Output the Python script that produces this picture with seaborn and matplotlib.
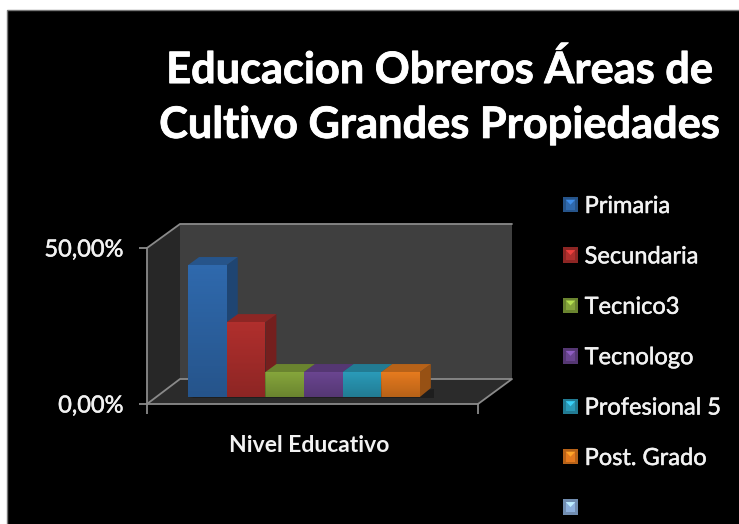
import numpy as np
import pandas as pd
import matplotlib
matplotlib.use('Agg')
import matplotlib.pyplot as plt
import matplotlib.patheffects as pe
from matplotlib.patches import Polygon, Rectangle, Patch
from matplotlib.legend_handler import HandlerPatch
from matplotlib.transforms import Affine2D
import seaborn as sns

# values
niveles = ['Primaria', 'Secundaria', 'Tecnico3', 'Tecnologo', 'Profesional 5', 'Post. Grado']
porcentajes = [42.3, 24.0, 8.0, 8.0, 8.0, 8.0]
colores = ['#2f69ad', '#b02f2d', '#85a53b', '#6a4590', '#2a9ab8', '#e57a1e']
color_vacio = '#8db0dc'  # the seventh legend entry has no label and no bar
categoria = ['Nivel Educativo']
yticks = [0, 50]
yticklabels = ['0,00%', '50,00%']
titulo = 'Educacion Obreros Áreas de\nCultivo Grandes Propiedades'

W, H = 739, 524
GRIS = '#8a8a8a'
DEPTH_X, DEPTH_Y = 11, 8    # bar depth in pixels
SHIFT_X, SHIFT_Y = -8.5, 7  # bars stand a bit inside the floor

sns.set_theme(style='white', font='Lato')
plt.rcParams['font.family'] = ['Lato', 'DejaVu Sans']

fig = plt.figure(figsize=(W / 100, H / 100), dpi=100, facecolor='white')
grueso = [pe.withStroke(linewidth=0.35, foreground='#f2f2f2')]


def dark(color, f):
    return tuple(c * f for c in matplotlib.colors.to_rgb(color))


# pixel canvas for the black frame and the 3d walls
bg = fig.add_axes([0, 0, 1, 1], zorder=0)
bg.set_xlim(0, W)
bg.set_ylim(H, 0)
bg.axis('off')
bg.add_patch(Rectangle((7, 10), W, H, fc='black', ec='#777777', lw=1))
bg.add_patch(Polygon([(180, 224), (512, 224), (512, 379), (180, 379)], fc='#3f3f3f', ec='none'))
bg.add_patch(Polygon([(147, 248), (180, 224), (180, 379), (147, 404)], fc='#272727', ec='none'))
bg.add_patch(Polygon([(147, 404), (180, 379), (512, 379), (478, 404)], fc='#2b2b2b', ec='none'))
bg.plot([147, 180, 512], [248, 224, 224], color=GRIS, lw=1.3)
bg.plot([147, 180, 512, 478], [404, 379, 379, 404], color=GRIS, lw=1.3)

# main axes on the front edge of the floor
ax = fig.add_axes([147 / W, 1 - 404 / H, (478 - 147) / W, (404 - 248) / H], zorder=1)
ax.patch.set_alpha(0)
df = pd.DataFrame({'categoria': categoria * len(niveles), 'nivel': niveles, 'valor': porcentajes})
sns.barplot(data=df, x='categoria', y='valor', hue='nivel', hue_order=niveles,
            palette=colores, width=0.7, gap=0, saturation=1, legend=False,
            linewidth=0, edgecolor='none', ax=ax)
ax.set_xlim(-0.5, 0.5)
ax.set_ylim(0, 50)
ax.set_xlabel('')
ax.set_ylabel('')
ax.set_yticks(yticks)
ax.set_yticklabels(yticklabels, color='#f2f2f2', fontsize=17, path_effects=grueso)
ax.set_xticks([-0.5, 0.5])
ax.set_xticklabels(['', ''])
ax.tick_params(axis='y', length=5.8, width=1.3, color=GRIS, pad=11, left=True)
ax.tick_params(axis='x', length=7, width=1.3, color=GRIS, bottom=True)
for side in ['top', 'right']:
    ax.spines[side].set_visible(False)
for side in ['left', 'bottom']:
    ax.spines[side].set_color(GRIS)
    ax.spines[side].set_linewidth(1.3)
ax.text(-0.01, -42 / 156 * 50, categoria[0], ha='center', va='center', color='#f2f2f2',
        fontsize=16.5, fontweight='bold', clip_on=False)

# move the bars off the axis plane, then give them depth and shading
shift = Affine2D().translate(SHIFT_X, SHIFT_Y)
bars = [b for c in ax.containers for b in c]
to_bg = bg.transData.inverted()
for bar, color in zip(bars, colores):
    bar.set_transform(ax.transData + shift)
    bar.set_clip_on(False)
    (x0, y0), (x1, y1) = to_bg.transform(bar.get_window_extent())
    top, base = min(y0, y1), max(y0, y1)
    x0, x1 = min(x0, x1), max(x0, x1)
    dx, dy = DEPTH_X, DEPTH_Y
    bg.add_patch(Polygon([(x0, base + 1), (x1 + dx + 3, base + 1), (x1 + dx + 3, base - dy)],
                         fc='#1e1e1e', ec='none', zorder=2))
    bg.add_patch(Polygon([(x1, top), (x1 + dx, top - dy), (x1 + dx, base - dy - 1), (x1, base)],
                         fc=dark(color, 0.66), ec='none', zorder=3))
    bg.add_patch(Polygon([(x0, top), (x0 + dx, top - dy), (x1 + dx, top - dy), (x1, top)],
                         fc=dark(color, 0.8), ec='none', zorder=3))
    # darker towards the base
    shade = np.zeros((64, 1, 4))
    shade[:, 0, 3] = np.linspace(0, 0.2, 64)
    ax.imshow(shade, extent=(x0, x1, base, top), aspect='auto', zorder=5,
              transform=bg.transData, clip_on=False)
ax.set_xlim(-0.5, 0.5)
ax.set_ylim(0, 50)


class HandlerCuadro(HandlerPatch):
    # legend swatch with the pale top bevel of the original
    def create_artists(self, legend, orig, xd, yd, width, height, fontsize, trans):
        color = orig.get_facecolor()
        base = Rectangle((-xd, -yd), width, height, fc=dark(color, 0.8), ec='none', transform=trans)
        mid = Polygon([(-xd + 2, -yd + 2), (-xd + width - 2, -yd + 2),
                       (-xd + width - 2, -yd + height - 2), (-xd + 2, -yd + height - 2)],
                      fc=color, ec='none', transform=trans)
        tri = Polygon([(-xd + 2, -yd + height - 2), (-xd + width - 2, -yd + height - 2),
                       (-xd + width / 2, -yd + height / 2)],
                      fc=tuple(np.clip(np.array(matplotlib.colors.to_rgb(color)) * 1.35, 0, 1)),
                      ec='none', transform=trans)
        return [base, mid, tri]


handles = [Patch(facecolor=c) for c in colores + [color_vacio]]
leg = fig.legend(handles, niveles + [' '], handler_map={Patch: HandlerCuadro()},
                 loc='upper left', bbox_to_anchor=(563 / W, 1 - 196 / H), frameon=False,
                 prop={'size': 17}, labelcolor='#f2f2f2',
                 handlelength=0.635, handleheight=0.635,
                 handletextpad=0.28, labelspacing=1.245, borderpad=0, borderaxespad=0)
for t in leg.get_texts():
    t.set_path_effects(grueso)

fig.text(440 / W, 1 - 97 / H, titulo, ha='center', va='center', color='white',
         fontsize=31.2, fontweight='bold', linespacing=1.45,
         path_effects=[pe.withStroke(linewidth=0.6, foreground='white')])

fig.savefig('out.png', dpi=100, facecolor='white')
